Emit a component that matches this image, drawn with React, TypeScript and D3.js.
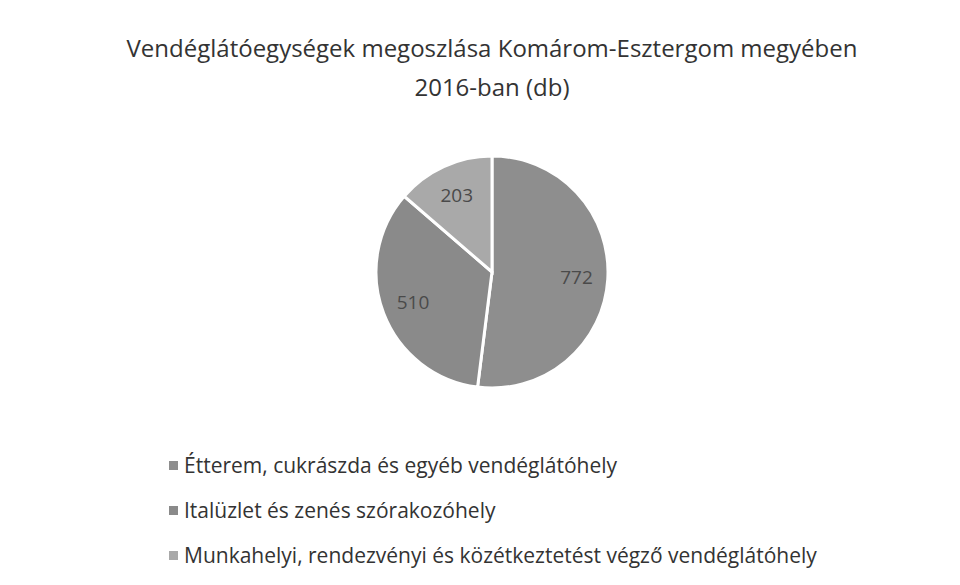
import * as React from "react";
import { useRef, useEffect } from "react";
import * as d3 from "d3";

const categories = [
  "Étterem, cukrászda és egyéb vendéglátóhely",
  "Italüzlet és zenés szórakozóhely",
  "Munkahelyi, rendezvényi és közétkeztetést végző vendéglátóhely",
];
const values = [772, 510, 203];
const colors = ["#8e8e8e", "#8a8a8a", "#a9a9a9"];

const PieChart = () => {
  const svgRef = useRef<SVGSVGElement>(null);

  useEffect(() => {
    const width = 960;
    const height = 585;
    const cx = 492;
    const cy = 272;
    const radius = 116;

    const svg = d3.select(svgRef.current).attr("width", width).attr("height", height);
    svg.selectAll("*").remove();

    svg.append("rect").attr("width", width).attr("height", height).attr("fill", "#fff");

    // Title
    const title = svg
      .append("text")
      .attr("text-anchor", "middle")
      .attr("font-family", "'Open Sans', sans-serif")
      .attr("font-size", 24)
      .attr("fill", "#333");
    title.append("tspan").attr("x", 492).attr("y", 57).text("Vendéglátóegységek megoszlása Komárom-Esztergom megyében");
    title.append("tspan").attr("x", 492).attr("y", 96).text("2016-ban (db)");

    const pie = d3.pie<number>().sort(null)(values);
    const arc = d3.arc<d3.PieArcDatum<number>>().innerRadius(0).outerRadius(radius);
    const labelArc = d3.arc<d3.PieArcDatum<number>>().innerRadius(radius * 0.73).outerRadius(radius * 0.73);

    const g = svg.append("g").attr("transform", `translate(${cx},${cy})`);

    g.selectAll("path")
      .data(pie)
      .enter()
      .append("path")
      .attr("d", arc)
      .attr("fill", (_, i) => colors[i])
      .attr("stroke", "#fff")
      .attr("stroke-width", 3);

    g.selectAll("text")
      .data(pie)
      .enter()
      .append("text")
      .attr("transform", (d) => `translate(${labelArc.centroid(d)})`)
      .attr("text-anchor", "middle")
      .attr("dy", "0.35em")
      .attr("font-family", "'Open Sans', sans-serif")
      .attr("font-size", 19)
      .attr("fill", "#4a4a4a")
      .text((d) => d.data);

    // Legend
    const legendY = d3.scalePoint<string>().domain(categories).range([466, 556]);
    const legend = svg
      .append("g")
      .selectAll("g")
      .data(categories)
      .enter()
      .append("g")
      .attr("transform", (d) => `translate(169,${legendY(d)})`);

    legend
      .append("rect")
      .attr("x", 0)
      .attr("y", -5)
      .attr("width", 9)
      .attr("height", 9)
      .attr("fill", (_, i) => colors[i]);

    legend
      .append("text")
      .attr("x", 15)
      .attr("dy", "0.35em")
      .attr("font-family", "'Open Sans', sans-serif")
      .attr("font-size", 21)
      .attr("fill", "#333")
      .text((d) => d);
  }, []);

  return <svg ref={svgRef} style={{ display: "block" }}></svg>;
};

export default function App() {
  return (
    <div style={{ margin: -8 }}>
      <PieChart />
    </div>
  );
}
